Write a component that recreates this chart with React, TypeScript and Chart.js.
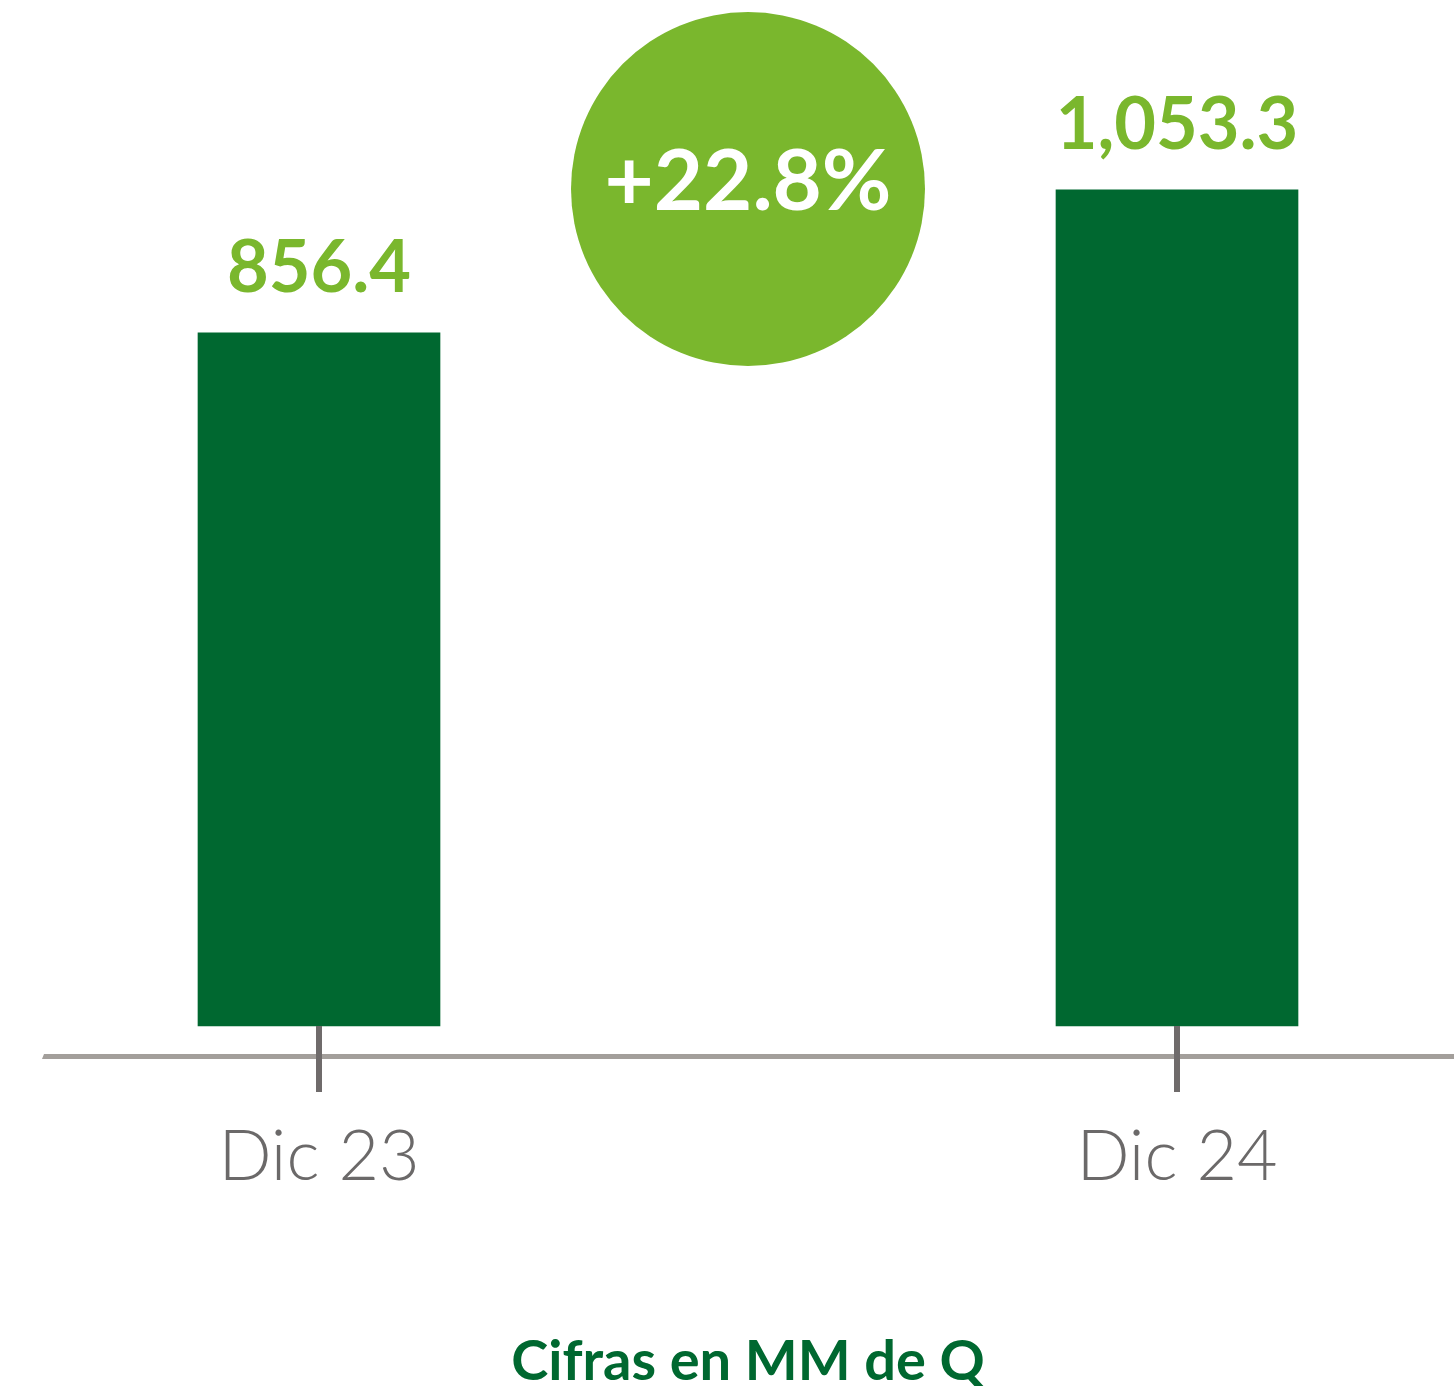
import React, { useEffect, useRef } from "react";
import { Chart, registerables } from "chart.js";

Chart.register(...registerables);

const categories = ["Dic 23", "Dic 24"];
const values = [856.4, 1053.3];
const valueLabels = ["856.4", "1,053.3"];
const growthLabel = "+22.8%";
const footnote = "Cifras en MM de Q";

const BAR = "#006830";
const LIGHT = "#7ab72d";

const overlay = {
  id: "overlay",
  afterDatasetsDraw(chart: any) {
    const { ctx } = chart;
    const xs = chart.scales.x;
    const meta = chart.getDatasetMeta(0);
    ctx.save();
    // axis line (slanted left edge)
    const axisY = chart.chartArea.bottom + 28;
    ctx.fillStyle = "#a39f9b";
    ctx.beginPath();
    ctx.moveTo(44, axisY);
    ctx.lineTo(chart.width, axisY);
    ctx.lineTo(chart.width, axisY + 5);
    ctx.lineTo(42, axisY + 5);
    ctx.closePath();
    ctx.fill();
    // ticks + labels
    categories.forEach((c, i) => {
      const x = xs.getPixelForValue(i);
      ctx.fillStyle = "#6f6b6b";
      ctx.fillRect(x - 3, chart.chartArea.bottom, 6, 66);
      ctx.fillStyle = "#6b6969";
      ctx.font = "300 70px Lato";
      ctx.textAlign = "center";
      ctx.textBaseline = "alphabetic";
      ctx.fillText(c, x, chart.chartArea.bottom + 154);
    });
    // value labels
    meta.data.forEach((bar: any, i: number) => {
      ctx.fillStyle = LIGHT;
      ctx.font = "bold 72px Lato";
      ctx.textAlign = "center";
      ctx.fillText(valueLabels[i], bar.x, bar.y - 41);
    });
    // growth bubble
    const cx = (xs.getPixelForValue(0) + xs.getPixelForValue(1)) / 2;
    const cy = 189;
    ctx.fillStyle = LIGHT;
    ctx.beginPath();
    ctx.arc(cx, cy, 177, 0, Math.PI * 2);
    ctx.fill();
    ctx.fillStyle = "#ffffff";
    ctx.font = "bold 85px Lato";
    ctx.fillText(growthLabel, cx, 210);
    // footnote
    ctx.fillStyle = BAR;
    ctx.font = "bold 56px Lato";
    ctx.fillText(footnote, cx, 1380);
    ctx.restore();
  },
};

export default function App() {
  const ref = useRef<HTMLCanvasElement>(null);
  useEffect(() => {
    document.body.style.margin = "0";
    const chart = new Chart(ref.current as HTMLCanvasElement, {
      type: "bar",
      data: {
        labels: categories,
        datasets: [
          {
            data: values,
            backgroundColor: BAR,
            barThickness: 242,
            base: -98,
            clip: false as any,
          },
        ],
      },
      options: {
        animation: false,
        responsive: false,
        maintainAspectRatio: false,
        layout: { padding: { left: 319, right: 277, top: 26, bottom: 360 } },
        plugins: { legend: { display: false }, tooltip: { enabled: false }, title: { display: false } },
        scales: {
          x: { display: false, offset: false },
          y: { display: false, min: -98, max: 1279 },
        },
      },
      plugins: [overlay],
    });
    return () => chart.destroy();
  }, []);
  return (
    <div style={{ position: "absolute", left: 0, top: 0, width: 1454, height: 1386 }}>
      <canvas ref={ref} width={1454} height={1386} style={{ width: 1454, height: 1386 }} />
    </div>
  );
}
